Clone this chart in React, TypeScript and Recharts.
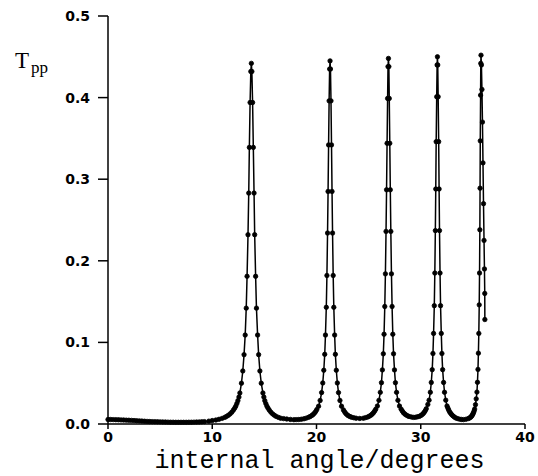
import { Line, LineChart, XAxis, YAxis } from 'recharts';

type Pt = [number, number];

// angle (degrees), Tpp
const baseline: Pt[] = [
  [0, 0.0055], [0.25, 0.0055], [0.5, 0.0054], [0.75, 0.0053], [1, 0.0052], [1.25, 0.005],
  [1.5, 0.0049], [1.75, 0.0047], [2, 0.0046], [2.25, 0.0044], [2.5, 0.0042], [2.75, 0.004],
  [3, 0.0038], [3.25, 0.0036], [3.5, 0.0034], [3.75, 0.0032], [4, 0.003], [4.25, 0.0029],
  [4.5, 0.0028], [4.75, 0.0027], [5, 0.0026], [5.25, 0.0025], [5.5, 0.0024], [5.75, 0.0023],
  [6, 0.0022], [6.25, 0.0022], [6.5, 0.0021], [6.75, 0.0021], [7, 0.0021], [7.25, 0.0021],
  [7.5, 0.0021], [7.75, 0.0022], [8, 0.0022], [8.25, 0.0023], [8.5, 0.0024], [8.75, 0.0025],
  [9, 0.0027], [9.25, 0.0029],
];

const peak1: Pt[] = [
  [9.67, 0.0035], [10.0, 0.0042], [10.35, 0.0049], [10.65, 0.0058], [10.95, 0.0069],
  [11.2, 0.0081], [11.37, 0.0093], [11.55, 0.0107], [11.71, 0.0124], [11.87, 0.0144],
  [12.02, 0.0169], [12.14, 0.0192], [12.25, 0.0217], [12.36, 0.025], [12.46, 0.0286],
  [12.56, 0.033], [12.65, 0.038], [12.8, 0.05], [12.93, 0.065], [13.05, 0.085],
  [13.16, 0.109], [13.26, 0.142], [13.34, 0.181], [13.43, 0.232], [13.5, 0.283],
  [13.56, 0.339], [13.63, 0.394], [13.7, 0.432], [13.75, 0.442], [13.8, 0.432],
  [13.87, 0.394], [13.94, 0.339], [14.01, 0.283], [14.07, 0.232], [14.16, 0.181],
  [14.24, 0.142], [14.35, 0.109], [14.45, 0.085], [14.57, 0.065], [14.7, 0.05],
  [14.86, 0.038], [14.95, 0.033], [15.04, 0.0286], [15.14, 0.025], [15.25, 0.0217],
  [15.36, 0.0192], [15.48, 0.0169], [15.63, 0.0144], [15.79, 0.0124], [15.96, 0.0107],
  [16.13, 0.0093], [16.35, 0.0081], [16.56, 0.0071], [16.85, 0.0066], [17.15, 0.0061],
  [17.5, 0.0056], [17.83, 0.0053], [18.05, 0.0054], [18.3, 0.0055], [18.55, 0.0059],
];

const peak2: Pt[] = [
  [18.8, 0.0064], [19.02, 0.0072], [19.24, 0.0082], [19.4, 0.0092], [19.55, 0.0104],
  [19.68, 0.0117], [19.8, 0.0133], [19.92, 0.0153], [20.03, 0.0177], [20.2, 0.0218],
  [20.35, 0.0288], [20.49, 0.0385], [20.6, 0.0503], [20.7, 0.0659], [20.79, 0.0854],
  [20.86, 0.109], [20.94, 0.143], [21.0, 0.182], [21.06, 0.234], [21.11, 0.285],
  [21.16, 0.342], [21.21, 0.396], [21.26, 0.435], [21.3, 0.445], [21.34, 0.435],
  [21.39, 0.396], [21.44, 0.342], [21.49, 0.285], [21.54, 0.234], [21.6, 0.182],
  [21.66, 0.143], [21.74, 0.109], [21.81, 0.0854], [21.9, 0.0659], [22.0, 0.0503],
  [22.11, 0.0385], [22.25, 0.0288], [22.4, 0.0218], [22.58, 0.0173], [22.69, 0.015],
  [22.8, 0.013], [22.92, 0.0115], [23.05, 0.0102], [23.2, 0.0092], [23.36, 0.0083],
  [23.58, 0.0076], [23.8, 0.0071], [24.15, 0.0068],
];

const peak3: Pt[] = [
  [24.5, 0.0071], [24.71, 0.0078], [24.92, 0.0086], [25.07, 0.0096], [25.22, 0.0108],
  [25.34, 0.0121], [25.46, 0.0137], [25.57, 0.0157], [25.68, 0.018], [25.84, 0.022],
  [25.99, 0.029], [26.12, 0.0388], [26.23, 0.0506], [26.32, 0.0663], [26.41, 0.086],
  [26.48, 0.11], [26.55, 0.144], [26.61, 0.184], [26.67, 0.236], [26.72, 0.287],
  [26.77, 0.344], [26.82, 0.399], [26.86, 0.438], [26.9, 0.448], [26.94, 0.438],
  [26.98, 0.399], [27.03, 0.344], [27.08, 0.287], [27.13, 0.236], [27.19, 0.184],
  [27.25, 0.144], [27.32, 0.11], [27.39, 0.086], [27.48, 0.0663], [27.57, 0.0506],
  [27.68, 0.0388], [27.81, 0.029], [27.96, 0.022], [28.12, 0.0182], [28.23, 0.0159],
  [28.34, 0.0139], [28.46, 0.0124], [28.58, 0.0112], [28.73, 0.0101], [28.88, 0.0092],
  [29.1, 0.0086], [29.3, 0.0081],
];

const peak4: Pt[] = [
  [29.5, 0.0083], [29.69, 0.0088], [29.87, 0.0094], [30.0, 0.0103], [30.13, 0.0115],
  [30.24, 0.0128], [30.34, 0.0144], [30.44, 0.0164], [30.53, 0.0187], [30.68, 0.024],
  [30.8, 0.0292], [30.92, 0.0389], [31.01, 0.0509], [31.1, 0.0666], [31.17, 0.0864],
  [31.23, 0.111], [31.3, 0.145], [31.35, 0.185], [31.4, 0.237], [31.44, 0.288],
  [31.48, 0.346], [31.53, 0.401], [31.57, 0.44], [31.6, 0.45], [31.63, 0.44],
  [31.67, 0.401], [31.72, 0.346], [31.76, 0.288], [31.8, 0.237], [31.85, 0.185],
  [31.9, 0.145], [31.97, 0.111], [32.03, 0.0864], [32.1, 0.0666], [32.19, 0.0509],
  [32.28, 0.0389], [32.4, 0.0292], [32.52, 0.0221], [32.6, 0.0196], [32.67, 0.0174],
  [32.76, 0.0151], [32.86, 0.0132], [32.96, 0.0116], [33.07, 0.0102], [33.2, 0.0088],
  [33.33, 0.0076], [33.5, 0.0067], [33.7, 0.006], [33.9, 0.0056], [34.1, 0.0054],
  [34.35, 0.0059],
];

const peak5: Pt[] = [
  [34.58, 0.0067], [34.69, 0.0075], [34.79, 0.0084], [34.87, 0.0095], [34.94, 0.0108],
  [35.0, 0.0122], [35.06, 0.0139], [35.12, 0.016], [35.17, 0.0183], [35.25, 0.0237],
  [35.32, 0.0308], [35.39, 0.0391], [35.44, 0.0511], [35.49, 0.0669], [35.53, 0.0868],
  [35.57, 0.111], [35.61, 0.146], [35.64, 0.185], [35.67, 0.238], [35.69, 0.289],
  [35.71, 0.347], [35.74, 0.403], [35.76, 0.442], [35.78, 0.452], [35.82, 0.44],
  [35.87, 0.41], [35.92, 0.37], [35.97, 0.32], [36.02, 0.27], [36.07, 0.225],
  [36.11, 0.19], [36.14, 0.16], [36.15, 0.128],
];

const xTicks = [0, 10, 20, 30, 40];
const yTicks = [0, 0.1, 0.2, 0.3, 0.4, 0.5];

const data = [...baseline, ...peak1, ...peak2, ...peak3, ...peak4, ...peak5].map(
  ([angle, tpp]) => ({ angle, tpp })
);

const tickFont = { fill: '#000', fontSize: 14, fontFamily: 'DejaVu Sans', fontWeight: 700 };

export default function App() {
  return (
    <div style={{ position: 'absolute', left: 0, top: 0, background: '#fff' }}>
      <LineChart
        width={538}
        height={476}
        data={data}
        margin={{ top: 16, right: 13, bottom: 0, left: 0 }}
      >
        <XAxis
          dataKey="angle"
          type="number"
          domain={[0, 40]}
          ticks={xTicks}
          height={52}
          tickSize={5}
          tickMargin={3}
          axisLine={{ stroke: '#000', strokeWidth: 1.5 }}
          tickLine={{ stroke: '#000', strokeWidth: 1.5 }}
          tick={tickFont}
          label={(props: any) => {
            const vb = props.viewBox || {};
            return (
              <text
                x={(vb.x ?? 108) + (vb.width ?? 417) / 2 + 3}
                y={468}
                textAnchor="middle"
                fontFamily="Liberation Mono"
                fontSize={25}
                fill="#000"
              >
                internal angle/degrees
              </text>
            );
          }}
        />
        <YAxis
          type="number"
          domain={[0, 0.5]}
          ticks={yTicks}
          width={108}
          tickSize={10}
          tickMargin={8}
          tickFormatter={(v: number) => v.toFixed(1)}
          axisLine={{ stroke: '#000', strokeWidth: 1.5 }}
          tickLine={{ stroke: '#000', strokeWidth: 1.5 }}
          tick={tickFont}
          label={() => (
            <text x={15} y={68} fontFamily="Liberation Serif" fontSize={23} fill="#000">
              T
              <tspan dx={2} dy={5} fontSize={17}>
                pp
              </tspan>
            </text>
          )}
        />
        <Line
          type="linear"
          dataKey="tpp"
          stroke="#000"
          strokeWidth={1.5}
          dot={{ r: 2.2, fill: '#000', stroke: '#000', strokeWidth: 0.8 }}
          isAnimationActive={false}
        />
      </LineChart>
    </div>
  );
}
